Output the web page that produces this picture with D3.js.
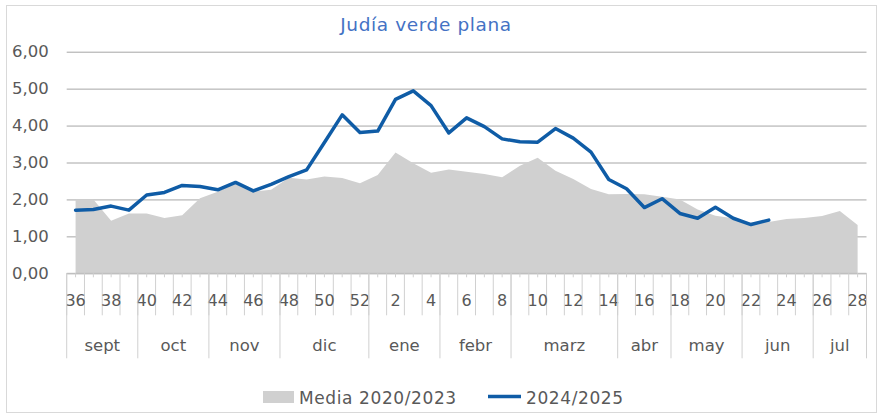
<!DOCTYPE html>
<html>
<head>
<meta charset="utf-8">
<script src="https://cdn.jsdelivr.net/npm/d3@7"></script>
<style>
  html, body { margin: 0; padding: 0; background: #fff; }
  svg { display: block; font-family: "DejaVu Sans", sans-serif; }
  .tick text { fill: #595959; }
</style>
</head>
<body>
<svg id="chart" width="879" height="414"></svg>
<script>
/* ============================================================
   DATA
============================================================ */
const weeks = [36,37,38,39,40,41,42,43,44,45,46,47,48,49,50,51,52,
               1,2,3,4,5,6,7,8,9,10,11,12,13,14,15,16,17,18,19,20,21,22,23,24,25,26,27,28];

const media = [2.00,2.00,1.42,1.62,1.62,1.50,1.57,2.03,2.21,2.44,2.21,2.26,2.59,2.54,2.62,2.58,2.44,
               2.66,3.27,2.98,2.72,2.81,2.75,2.69,2.60,2.91,3.13,2.78,2.55,2.28,2.14,2.15,2.14,2.07,
               2.00,1.73,1.56,1.49,1.37,1.39,1.47,1.50,1.55,1.69,1.31];

const season = [1.71,1.73,1.82,1.71,2.12,2.19,2.38,2.35,2.26,2.46,2.23,2.41,2.62,2.80,3.54,4.29,3.81,
                3.85,4.71,4.94,4.54,3.80,4.21,3.97,3.64,3.56,3.55,3.92,3.66,3.28,2.54,2.29,1.78,
                2.02,1.62,1.49,1.79,1.49,1.32,1.44];

const monthNames = ["sept","oct","nov","dic","ene","febr","marz","abr","may","jun","jul"];
const monthSpans = [4,4,4,5,4,4,6,3,4,4,3];

const yTicks = [0,1,2,3,4,5,6];
const seriesNames = ["Media 2020/2023", "2024/2025"];

/* ============================================================
   LAYOUT
============================================================ */
const svg = d3.select("#chart");
const plot = { left: 66.7, right: 866.5, top: 51.7, bottom: 273.3 };

const x = d3.scaleBand()
  .domain(weeks.map(String))
  .range([plot.left, plot.right])
  .padding(0);

const y = d3.scaleLinear()
  .domain([0, 6])
  .range([plot.bottom, plot.top]);

const cx = i => x(String(weeks[i])) + x.bandwidth() / 2;
const comma = d3.formatLocale({ decimal: ",", thousands: ".", grouping: [3], currency: ["", "€"] }).format(".2f");

// outer border
svg.append("rect")
  .attr("x", 6.5).attr("y", 5.5)
  .attr("width", 870).attr("height", 407)
  .attr("fill", "#fff")
  .attr("stroke", "#d9d9d9");

// title
svg.append("text")
  .attr("x", 426).attr("y", 31)
  .attr("text-anchor", "middle")
  .attr("font-size", 18.5)
  .attr("letter-spacing", 0.6)
  .attr("fill", "#4472c4")
  .text("Judía verde plana");

/* ============================================================
   Y AXIS + GRID
============================================================ */
const yAxis = svg.append("g")
  .attr("transform", `translate(${plot.left},0)`)
  .call(d3.axisLeft(y)
    .tickValues(yTicks)
    .tickSize(-(plot.right - plot.left))
    .tickPadding(18)
    .tickFormat(comma));

yAxis.select(".domain").remove();
yAxis.selectAll(".tick line").attr("stroke", "#a6a6a6").attr("stroke-width", 1);
yAxis.selectAll(".tick text").attr("font-size", 16.5).attr("font-family", "DejaVu Sans");

/* ============================================================
   SERIES
============================================================ */
const area = d3.area()
  .x((d, i) => cx(i))
  .y0(y(0))
  .y1(d => y(d));

svg.append("path")
  .datum(media)
  .attr("d", area)
  .attr("fill", "#d0d0d0");

const line = d3.line()
  .x((d, i) => cx(i))
  .y(d => y(d));

svg.append("path")
  .datum(season)
  .attr("d", line)
  .attr("fill", "none")
  .attr("stroke", "#0f5ca6")
  .attr("stroke-width", 3.5)
  .attr("stroke-linejoin", "round")
  .attr("stroke-linecap", "round");

/* ============================================================
   X AXIS (two levels: weeks + months)
============================================================ */
const xAxis = svg.append("g");
const axisGrey = "#d0d0d0";

xAxis.append("line")
  .attr("x1", plot.left).attr("x2", plot.right)
  .attr("y1", plot.bottom).attr("y2", plot.bottom)
  .attr("stroke", "#bfbfbf");

// boundary lines between weeks
const bounds = weeks.map(w => x(String(w))).concat([plot.right]);
xAxis.selectAll(".wk-line")
  .data(bounds)
  .join("line")
  .attr("x1", d => d).attr("x2", d => d)
  .attr("y1", plot.bottom).attr("y2", plot.bottom + 42)
  .attr("stroke", axisGrey);

// minor ticks at week centres
xAxis.selectAll(".wk-tick")
  .data(weeks)
  .join("line")
  .attr("x1", (d, i) => cx(i)).attr("x2", (d, i) => cx(i))
  .attr("y1", plot.bottom).attr("y2", plot.bottom + 4)
  .attr("stroke", axisGrey);

// week labels every second week
xAxis.selectAll(".wk-label")
  .data(weeks.filter((d, i) => i % 2 === 0))
  .join("text")
  .attr("x", d => x(String(d)) + x.bandwidth() / 2)
  .attr("y", plot.bottom + 33)
  .attr("text-anchor", "middle")
  .attr("font-size", 16)
  .attr("fill", "#595959")
  .text(d => d);

// month groups
let start = 0;
const monthGroups = monthNames.map((m, k) => {
  const g = { name: m, from: start, to: start + monthSpans[k] };
  start += monthSpans[k];
  return g;
});
const edgeX = idx => idx >= weeks.length ? plot.right : x(String(weeks[idx]));

xAxis.selectAll(".mo-line")
  .data([0].concat(monthGroups.map(g => g.to)))
  .join("line")
  .attr("x1", d => edgeX(d)).attr("x2", d => edgeX(d))
  .attr("y1", plot.bottom).attr("y2", plot.bottom + 85)
  .attr("stroke", axisGrey);

xAxis.selectAll(".mo-label")
  .data(monthGroups)
  .join("text")
  .attr("x", g => (edgeX(g.from) + edgeX(g.to)) / 2)
  .attr("y", plot.bottom + 78)
  .attr("text-anchor", "middle")
  .attr("font-size", 16.5)
  .attr("fill", "#595959")
  .text(g => g.name);

/* ============================================================
   LEGEND
============================================================ */
const legend = svg.append("g")
  .attr("font-size", 17)
  .attr("letter-spacing", 0.6)
  .attr("fill", "#595959");

legend.append("rect")
  .attr("x", 263).attr("y", 391)
  .attr("width", 31).attr("height", 12)
  .attr("fill", "#d0d0d0");
legend.append("text").attr("x", 299).attr("y", 403.5).text(seriesNames[0]);

legend.append("line")
  .attr("x1", 488).attr("x2", 521)
  .attr("y1", 396.5).attr("y2", 396.5)
  .attr("stroke", "#0f5ca6").attr("stroke-width", 3.5);
legend.append("text").attr("x", 526).attr("y", 403.5).text(seriesNames[1]);
</script>
</body>
</html>
